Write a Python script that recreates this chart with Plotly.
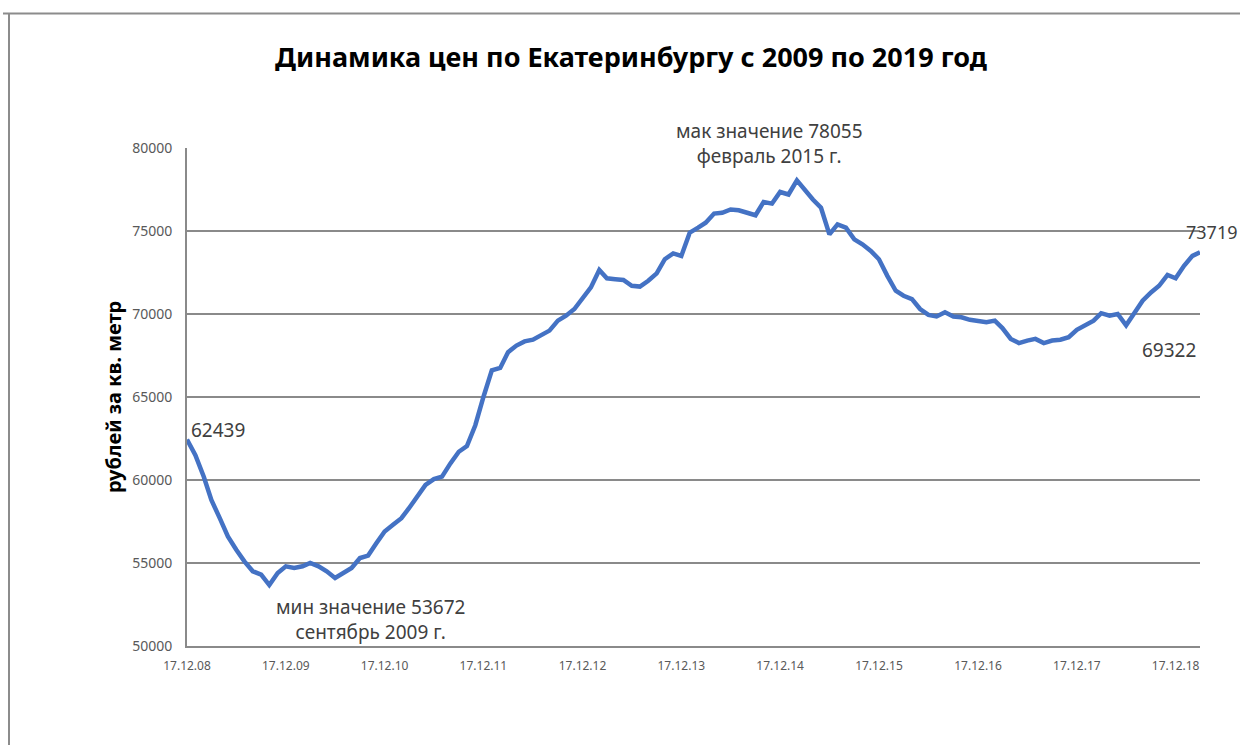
import plotly.graph_objects as go
from datetime import date

# Monthly average asking price per square metre, Ekaterinburg (rub), Dec 2008 - Mar 2019
start_year, start_month, day = 2008, 12, 17
prices = [
    62439, 61500, 60200, 58800, 57700, 56600, 55800, 55100, 54500, 54300,
    53672, 54400, 54800, 54700, 54800, 55000, 54800, 54500, 54100, 54400,
    54700, 55300, 55450, 56200, 56900, 57300, 57700, 58300, 59000, 59700,
    60050, 60200, 61000, 61700, 62050, 63300, 65000, 66600, 66750, 67700,
    68100, 68350, 68450, 68700, 69000, 69600, 69900, 70300, 70900, 71600,
    72650, 72150, 72100, 72050, 71700, 71650, 72000, 72450, 73300, 73650,
    73500, 74900, 75200, 75500, 76050, 76100, 76300, 76250, 76100, 75950,
    76750, 76650, 77350, 77200, 78055, 77500, 76900, 76400, 74800, 75400,
    75200, 74500, 74200, 73800, 73300, 72300, 71400, 71100, 70900, 70300,
    69950, 69850, 70100, 69850, 69800, 69650, 69550, 69500, 69600, 69150,
    68500, 68250, 68400, 68500, 68250, 68400, 68450, 68600, 69050, 69300,
    69600, 70050, 69900, 70000, 69322, 70050, 70800, 71300, 71700, 72350,
    72150, 72900, 73500, 73719,
]

dates = []
y, m = start_year, start_month
for _ in prices:
    dates.append(date(y, m, day))
    m += 1
    if m > 12:
        m, y = 1, y + 1

y_ticks = [50000, 55000, 60000, 65000, 70000, 75000, 80000]

i_min = prices.index(min(prices))
i_max = prices.index(max(prices))
i_dip = prices.index(69322)

title_text = "Динамика цен по Екатеринбургу с 2009 по 2019 год"
y_title = "рублей за кв. метр"
min_text = "мин значение 53672<br>сентябрь 2009 г."
max_text = "мак значение 78055<br>февраль 2015 г."

W, H = 1240, 745
L, R, T, B = 187, 1200, 148, 646


def px_x(p):
    return (p - L) / (R - L)


def px_y(p):
    return (B - p) / (B - T)


FONT = "Noto Sans"
LABEL_COLOR = "#404040"
GRID = "#8a8a8a"

fig = go.Figure()
fig.add_trace(go.Scatter(
    x=dates, y=prices, mode="lines",
    line=dict(color="#4472C4", width=4.5),
    hoverinfo="x+y", showlegend=False,
))

ann = dict(showarrow=False, font=dict(family=FONT, size=19, color=LABEL_COLOR))
annotations = [
    dict(x=dates[0], y=prices[0], text=f"{prices[0]}", xanchor="left", yanchor="middle",
         xshift=2, yshift=10, **ann),
    dict(x=dates[i_min], y=prices[i_min], text=min_text, xanchor="center", yanchor="middle",
         xshift=101, yshift=-34, **ann),
    dict(x=dates[i_max], y=prices[i_max], text=max_text, xanchor="center", yanchor="middle",
         xshift=-27, yshift=37, **ann),
    dict(x=dates[-1], y=prices[-1], text=f"{prices[-1]}", xanchor="left", yanchor="middle",
         xshift=-16, yshift=20, showarrow=False,
         font=dict(family=FONT, size=18, color=LABEL_COLOR)),
    dict(x=dates[i_dip], y=prices[i_dip], text=f"{prices[i_dip]}", xanchor="center",
         yanchor="middle", xshift=43, yshift=-25, **ann),
    dict(xref="paper", yref="paper", x=px_x(113), y=px_y(397), text=f"<b>{y_title}</b>",
         textangle=-90, showarrow=False, xanchor="center", yanchor="middle",
         font=dict(family=FONT, size=20, color="#000000")),
]

# outer chart frame (top and left edges)
frame = dict(type="line", xref="paper", yref="paper", line=dict(color="#8c8c8c", width=2))
shapes = [
    dict(x0=px_x(3), x1=px_x(1240), y0=px_y(13.5), y1=px_y(13.5), **frame),
    dict(x0=px_x(9), x1=px_x(9), y0=px_y(13.5), y1=px_y(745), **frame),
]

fig.update_layout(
    width=W, height=H,
    margin=dict(l=L, r=W - R, t=T, b=H - B, pad=0),
    paper_bgcolor="white", plot_bgcolor="white",
    title=dict(text=f"<b>{title_text}</b>", x=631 / W, xanchor="center", xref="container",
               y=1 - 58 / H, yanchor="middle", yref="container",
               font=dict(family=FONT, size=27, color="#000000")),
    annotations=annotations,
    shapes=shapes,
    xaxis=dict(
        type="date", range=[dates[0], dates[-1]],
        tick0=dates[0].isoformat(), dtick="M12", tickformat="%d.%m.%y",
        showgrid=False, showline=True, linecolor=GRID, linewidth=2,
        ticks="", ticklabelstandoff=8,
        tickfont=dict(family=FONT, size=12, color="#595959"),
        zeroline=False,
    ),
    yaxis=dict(
        range=[50000, 80000], tickvals=y_ticks, tickformat="d",
        showgrid=True, gridcolor=GRID, gridwidth=1.6,
        showline=True, linecolor=GRID, linewidth=2,
        ticks="", ticklabelstandoff=10,
        tickfont=dict(family=FONT, size=14, color="#595959"),
        zeroline=False,
    ),
)

fig.write_html("out.html")
